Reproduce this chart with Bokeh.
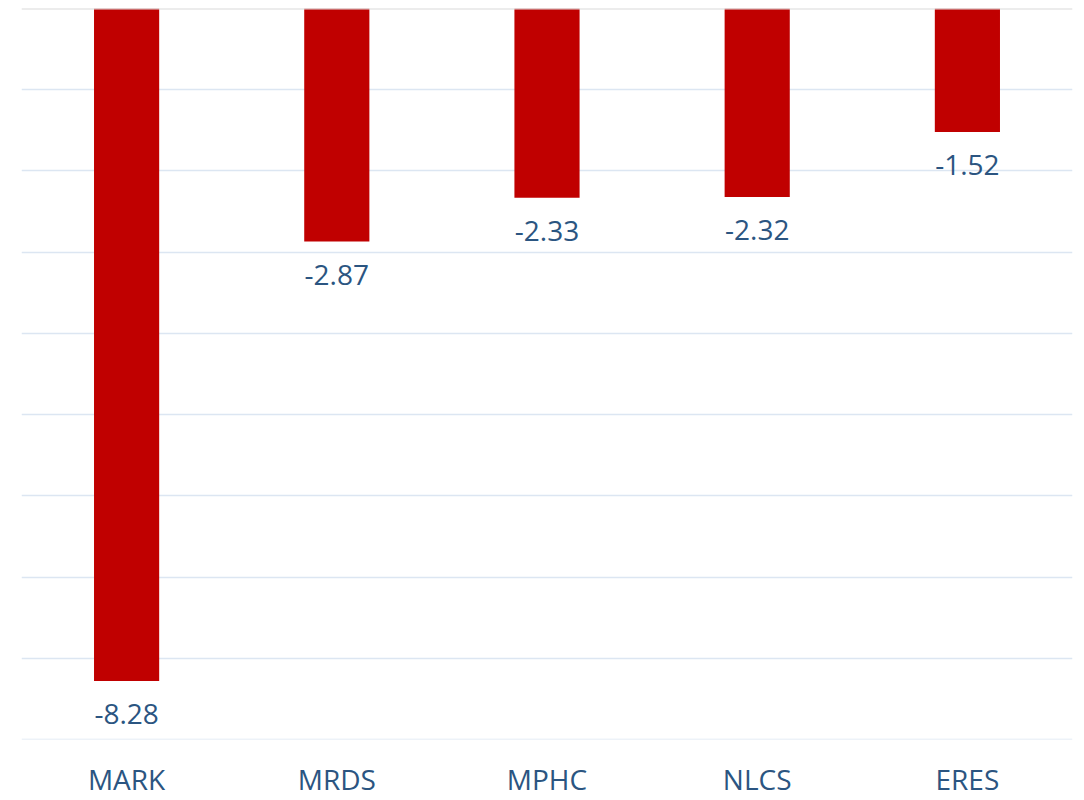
from bokeh.plotting import figure
from bokeh.models import Range1d, FixedTicker, ColumnDataSource, Span
from bokeh.core.properties import value
from bokeh.embed import file_html
from bokeh.resources import INLINE

categories = ["MARK", "MRDS", "MPHC", "NLCS", "ERES"]
values = [-8.28, -2.87, -2.33, -2.32, -1.52]
labels = ["-8.28", "-2.87", "-2.33", "-2.32", "-1.52"]

src = ColumnDataSource(dict(cat=categories, val=values, lab=labels))

p = figure(x_range=categories, y_range=Range1d(-9, 0), width=1084, height=800,
           output_backend="svg", toolbar_location=None,
           min_border_left=21, min_border_right=12, min_border_top=8, min_border_bottom=59)
p.outline_line_color = None
p.background_fill_color = "white"
p.border_fill_color = "white"

p.vbar(x="cat", top=0, bottom="val", width=0.31, source=src,
       fill_color="#C00000", line_color=None)

p.text(x="cat", y="val", text="lab", source=src, text_align="center",
       text_baseline="top", y_offset=23, text_font=value("Open Sans"),
       text_font_size="28px", text_color="#2B5581")

p.yaxis.visible = False
p.ygrid.ticker = FixedTicker(ticks=list(range(-9, 0)))
p.ygrid.grid_line_color = "#DCE6F2"
p.ygrid.grid_line_width = 1.5
p.xgrid.grid_line_color = None

p.add_layout(Span(location=-9, dimension="width", line_color="#DCE6F2", line_width=1.5))
p.add_layout(Span(location=0, dimension="width", line_color="#D9D9D9", line_width=2))

ax = p.xaxis[0]
ax.axis_line_color = None
ax.major_tick_line_color = None
ax.minor_tick_line_color = None
ax.major_label_standoff = 14
ax.major_label_text_font = "Open Sans"
ax.major_label_text_font_size = "28px"
ax.major_label_text_color = "#2B5581"

open("out.html", "w").write(file_html(p, INLINE))
